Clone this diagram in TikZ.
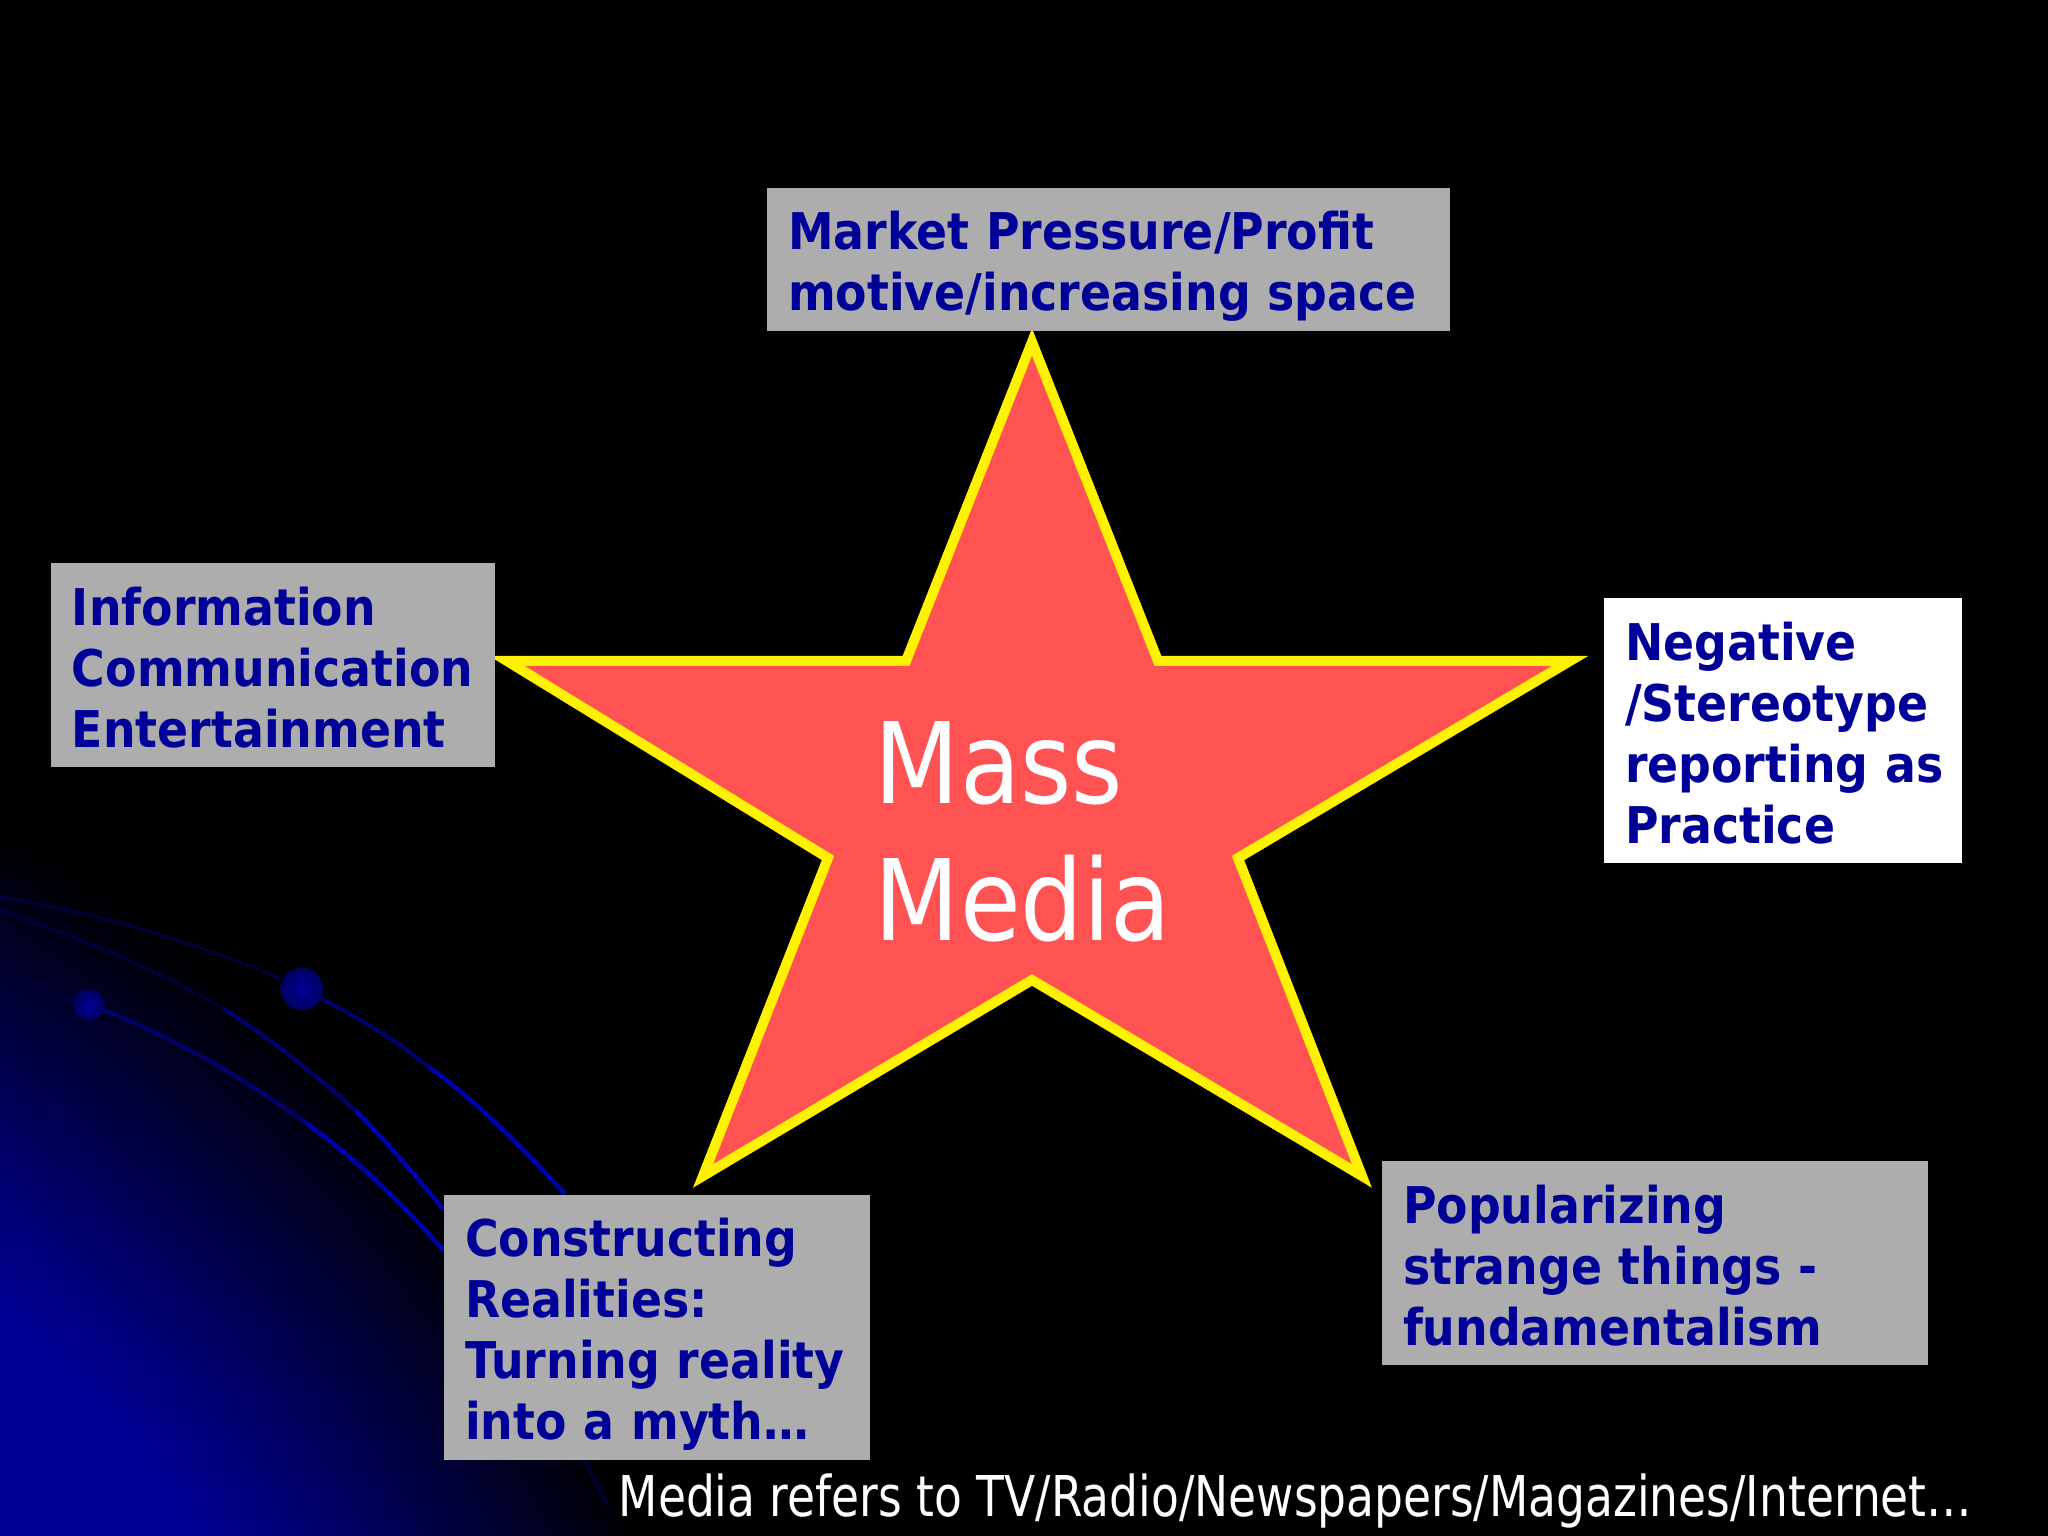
\documentclass[tikz,border=0pt]{standalone}
\usepackage{fontspec}
\usepackage{tikz}
\usetikzlibrary{positioning}
\newfontfamily\boxfont[FakeStretch=0.905]{DejaVu Sans Bold}
\newfontfamily\plainfont[FakeStretch=0.877]{DejaVu Sans}
\newfontfamily\footfont[FakeStretch=0.81]{DejaVu Sans}
\definecolor{boxgray}{RGB}{173,173,173}
\definecolor{boxblue}{RGB}{0,0,153}
\definecolor{starred}{RGB}{255,83,83}
\definecolor{glowblue}{RGB}{0,0,150}
\definecolor{arcblue}{RGB}{0,0,170}
\definecolor{arcmid}{RGB}{0,0,110}
\definecolor{arcdark}{RGB}{0,0,60}
\pgfdeclareradialshading{planetglow}{\pgfpoint{0bp}{0bp}}{color(0bp)=(glowblue); color(18.5bp)=(glowblue); color(25bp)=(black); color(50bp)=(black)}
\tikzset{
  infobox/.style={fill=boxgray, text=boxblue, inner sep=0pt, align=left,
    font=\boxfont\fontsize{14.4}{17.4}\selectfont,
    execute at begin node=\rule{0pt}{0.85\baselineskip},
    execute at end node=\rule[-0.15\baselineskip]{0pt}{0pt}},
  arcline/.style={draw=arcblue, line width=0.045cm},
  arcmiddle/.style={draw=arcmid, line width=0.04cm},
  arcfaint/.style={draw=arcdark, line width=0.03cm},
  ballshade/.style={inner color=arcblue!90!black, outer color=arcblue!55!black}
}
\begin{document}
\begin{tikzpicture}
 \useasboundingbox (0,0) rectangle (20.48,-15.36);
 \fill[black] (0,0) rectangle (20.48,-15.36);

 %glow
 \begin{scope}
  \clip (0,0) rectangle (20.48,-15.36);
  \shade[shading=planetglow] (-7.5,-21.5) circle (15.2cm);
 \end{scope}

 %arcs
 \path[arcfaint] (0,-8.97) .. controls (1.1,-9.15) and (2,-9.45) .. (2.82,-9.79);
 \path[arcmiddle] (3.02,-9.89) .. controls (3.45,-10.1) and (3.9,-10.35) .. (4.29,-10.67);
 \path[arcline] (4.29,-10.67) .. controls (4.75,-11) and (5.2,-11.45) .. (5.65,-11.94);
 \path[arcfaint] (0,-9.10) .. controls (0.7,-9.35) and (1.5,-9.65) .. (2.24,-10.09);
 \path[arcmiddle] (2.24,-10.09) .. controls (2.65,-10.35) and (3.1,-10.7) .. (3.55,-11.10);
 \path[arcline] (3.55,-11.10) .. controls (3.85,-11.4) and (4.15,-11.75) .. (4.43,-12.09);
 \path[arcfaint] (5.84,-14.6) -- (6.08,-15.06);
 \path[arcfaint] (0,-9.74) -- (0.89,-10.05);
 \path[arcmiddle] (0.89,-10.05) .. controls (1.6,-10.3) and (2.4,-10.75) .. (3.06,-11.23);
 \path[arcline] (3.06,-11.23) .. controls (3.5,-11.55) and (3.95,-11.95) .. (4.43,-12.5);
 \shade[ballshade] (3.02,-9.89) circle (0.215cm);
 \shade[ballshade] (0.89,-10.05) circle (0.155cm);

 %star
 \path[draw=yellow, fill=starred, line width=0.1cm]
   (10.32,-3.42) -- (11.58,-6.61) -- (15.70,-6.61) -- (12.38,-8.58)
   -- (13.62,-11.76) -- (10.32,-9.80) -- (7.03,-11.76) -- (8.28,-8.58)
   -- (5.07,-6.61) -- (9.06,-6.61) -- cycle;
 \node[white, font=\plainfont\fontsize{32}{39}\selectfont, align=left] (mass) at (10.23,-8.32) {Mass\\Media};

 %boxes
 \node[infobox, minimum width=6.83cm, minimum height=1.43cm, text width=6.41cm] (b1) at (11.085,-2.595) {Market Pressure/Profit\\motive/increasing space};
 \node[infobox, minimum width=4.44cm, minimum height=2.04cm, text width=4.02cm] (b2) at (2.73,-6.65) {Information\\Communication\\Entertainment};
 \node[infobox, fill=white, minimum width=3.58cm, minimum height=2.65cm, text width=3.16cm] (b3) at (17.83,-7.305) {Negative\\/Stereotype\\\mbox{reporting as}\\Practice};
 \node[infobox, minimum width=4.26cm, minimum height=2.65cm, text width=3.84cm] (b4) at (6.57,-13.275) {Constructing\\Realities:\\Turning reality\\into a myth…};
 \node[infobox, minimum width=5.46cm, minimum height=2.04cm, text width=5.04cm] (b5) at (16.55,-12.63) {Popularizing\\strange things -\\fundamentalism};

 %footer
 \node[white, anchor=west, inner sep=0pt, font=\footfont\fontsize{16}{20}\selectfont] (foot) at (6.18,-15.01) {Media refers to TV/Radio/Newspapers/Magazines/Internet…};
\end{tikzpicture}
\end{document}
